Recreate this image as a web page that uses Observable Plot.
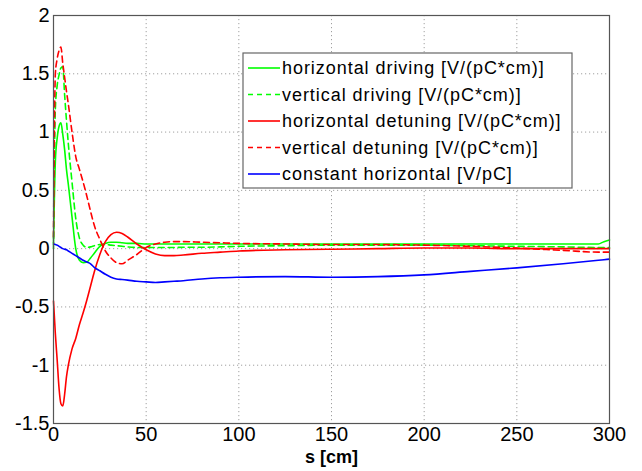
<!DOCTYPE html>
<html>
<head>
<meta charset="utf-8">
<script src="https://cdn.jsdelivr.net/npm/d3@7"></script>
<script src="https://cdn.jsdelivr.net/npm/@observablehq/plot@0.6"></script>
<style>
  body { margin: 0; background: white; }
  #chart { width: 642px; height: 471px; }
</style>
</head>
<body>
<div id="chart"></div>
<script>
// s positions [cm]
const s = [0,1,2,3,4,5,6,7,8,10,12,14,16,18,20,22,25,28,31,34,37,40,45,50,55,60,65,70,80,90,100,125,150,175,200,225,250,275,294,297,300];

// horizontal driving [V/(pC*cm)]
const hDriving = [0.05,0.75,0.95,1.05,1.08,0.98,0.85,0.68,0.55,0.27,0.0,-0.1,-0.12,-0.115,-0.08,-0.04,0.02,0.045,0.055,0.055,0.05,0.045,0.045,0.04,0.04,0.04,0.04,0.04,0.04,0.04,0.04,0.04,0.04,0.04,0.04,0.04,0.04,0.04,0.04,0.06,0.075];
// vertical driving [V/(pC*cm)]
const vDriving = [0.0,1.2,1.4,1.49,1.55,1.56,1.32,1.1,0.9,0.57,0.26,0.09,0.03,0.01,0.015,0.025,0.035,0.035,0.03,0.025,0.02,0.015,0.01,0.01,0.01,0.01,0.01,0.012,0.012,0.015,0.02,0.025,0.03,0.03,0.03,0.025,0.02,0.015,0.01,0.01,0.01];
// horizontal detuning [V/(pC*cm)]
const hDetuning = [-0.45,-0.73,-0.96,-1.2,-1.33,-1.35,-1.25,-1.1,-1.0,-0.86,-0.77,-0.65,-0.55,-0.44,-0.32,-0.2,-0.05,0.06,0.12,0.14,0.13,0.1,0.04,-0.01,-0.045,-0.06,-0.06,-0.055,-0.04,-0.03,-0.02,-0.01,-0.005,0.0,0.005,0.005,0.0,0.0,0.0,0.0,0.0];
// vertical detuning [V/(pC*cm)]
const vDetuning = [0.1,1.5,1.63,1.7,1.73,1.59,1.47,1.35,1.24,1.0,0.79,0.68,0.57,0.45,0.32,0.2,0.08,-0.02,-0.08,-0.12,-0.13,-0.1,-0.05,0.01,0.04,0.055,0.06,0.06,0.055,0.05,0.045,0.04,0.035,0.035,0.03,0.02,0.005,-0.015,-0.03,-0.03,-0.03];
// constant horizontal [V/pC]
const constH = [0.04,0.035,0.03,0.02,0.01,0.0,-0.005,-0.01,-0.02,-0.04,-0.06,-0.08,-0.1,-0.115,-0.13,-0.16,-0.19,-0.22,-0.245,-0.26,-0.265,-0.27,-0.28,-0.285,-0.29,-0.285,-0.28,-0.275,-0.26,-0.25,-0.245,-0.24,-0.245,-0.24,-0.225,-0.195,-0.165,-0.13,-0.1,-0.095,-0.09];

const seriesNames = [
  "horizontal driving [V/(pC*cm)]",
  "vertical driving [V/(pC*cm)]",
  "horizontal detuning [V/(pC*cm)]",
  "vertical detuning [V/(pC*cm)]",
  "constant horizontal [V/pC]"
];
const seriesValues = [hDriving, vDriving, hDetuning, vDetuning, constH];
const seriesColors = ["#00ff00", "#00ff00", "#ff0000", "#ff0000", "#0000ff"];
const seriesDashed = [false, true, false, true, false];

const xTicks = [0,50,100,150,200,250,300];
const yTicks = [-1.5,-1,-0.5,0,0.5,1,1.5,2];
const xLabel = "s [cm]";

const lineMarks = seriesValues.map((vals, i) => {
  const data = s.map((sv, j) => ({s: sv, v: vals[j]}));
  return Plot.line(data, {
    x: "s", y: "v",
    stroke: seriesColors[i],
    strokeWidth: 1.6,
    strokeDasharray: seriesDashed[i] ? "6,4" : null,
    curve: "monotone-x"
  });
});

const gridStyle = {stroke: "#a0a0a0", strokeWidth: 1, strokeDasharray: "1.2,2.8"};

const plot = Plot.plot({
  width: 642,
  height: 471,
  marginLeft: 53,
  marginRight: 33,
  marginTop: 15,
  marginBottom: 48,
  style: {fontFamily: "'Liberation Sans', Arial, sans-serif", fontSize: "20px", background: "white", color: "#000", overflow: "visible"},
  x: {domain: [0, 300]},
  y: {domain: [-1.5, 2]},
  marks: [
    Plot.ruleX(xTicks, gridStyle),
    Plot.ruleY(yTicks, gridStyle),
    ...lineMarks,
    Plot.frame({stroke: "#555", strokeWidth: 1.2}),
    Plot.axisX({ticks: xTicks, tickSize: 0, tickPadding: 3, label: null, tickFormat: d => String(d), fontSize: 20}),
    Plot.axisY({ticks: yTicks, tickSize: 0, tickPadding: 4, label: null, tickFormat: d => String(d), fontSize: 20}),
    Plot.text([xLabel], {frameAnchor: "bottom", dy: 39, fontWeight: "bold", fontSize: 18, text: d => d})
  ]
});

document.getElementById("chart").appendChild(plot);

// Legend box inside the plot (upper right)
const svg = d3.select(plot);
const lg = svg.append("g").attr("transform", "translate(243,53)");
lg.append("rect").attr("x", 0).attr("y", 0).attr("width", 329).attr("height", 135)
  .attr("fill", "white").attr("stroke", "#666").attr("stroke-width", 1.2);
seriesNames.forEach((name, i) => {
  const cy = 15 + i * 26.5;
  lg.append("line").attr("x1", 5).attr("x2", 37).attr("y1", cy).attr("y2", cy)
    .attr("stroke", seriesColors[i]).attr("stroke-width", 1.6)
    .attr("stroke-dasharray", seriesDashed[i] ? "5,4" : null);
  lg.append("text").attr("x", 39).attr("y", cy).attr("dy", "0.35em")
    .attr("text-anchor", "start")
    .attr("font-size", 18).attr("letter-spacing", "0.95px")
    .attr("fill", "#000").text(name);
});
</script>
</body>
</html>
